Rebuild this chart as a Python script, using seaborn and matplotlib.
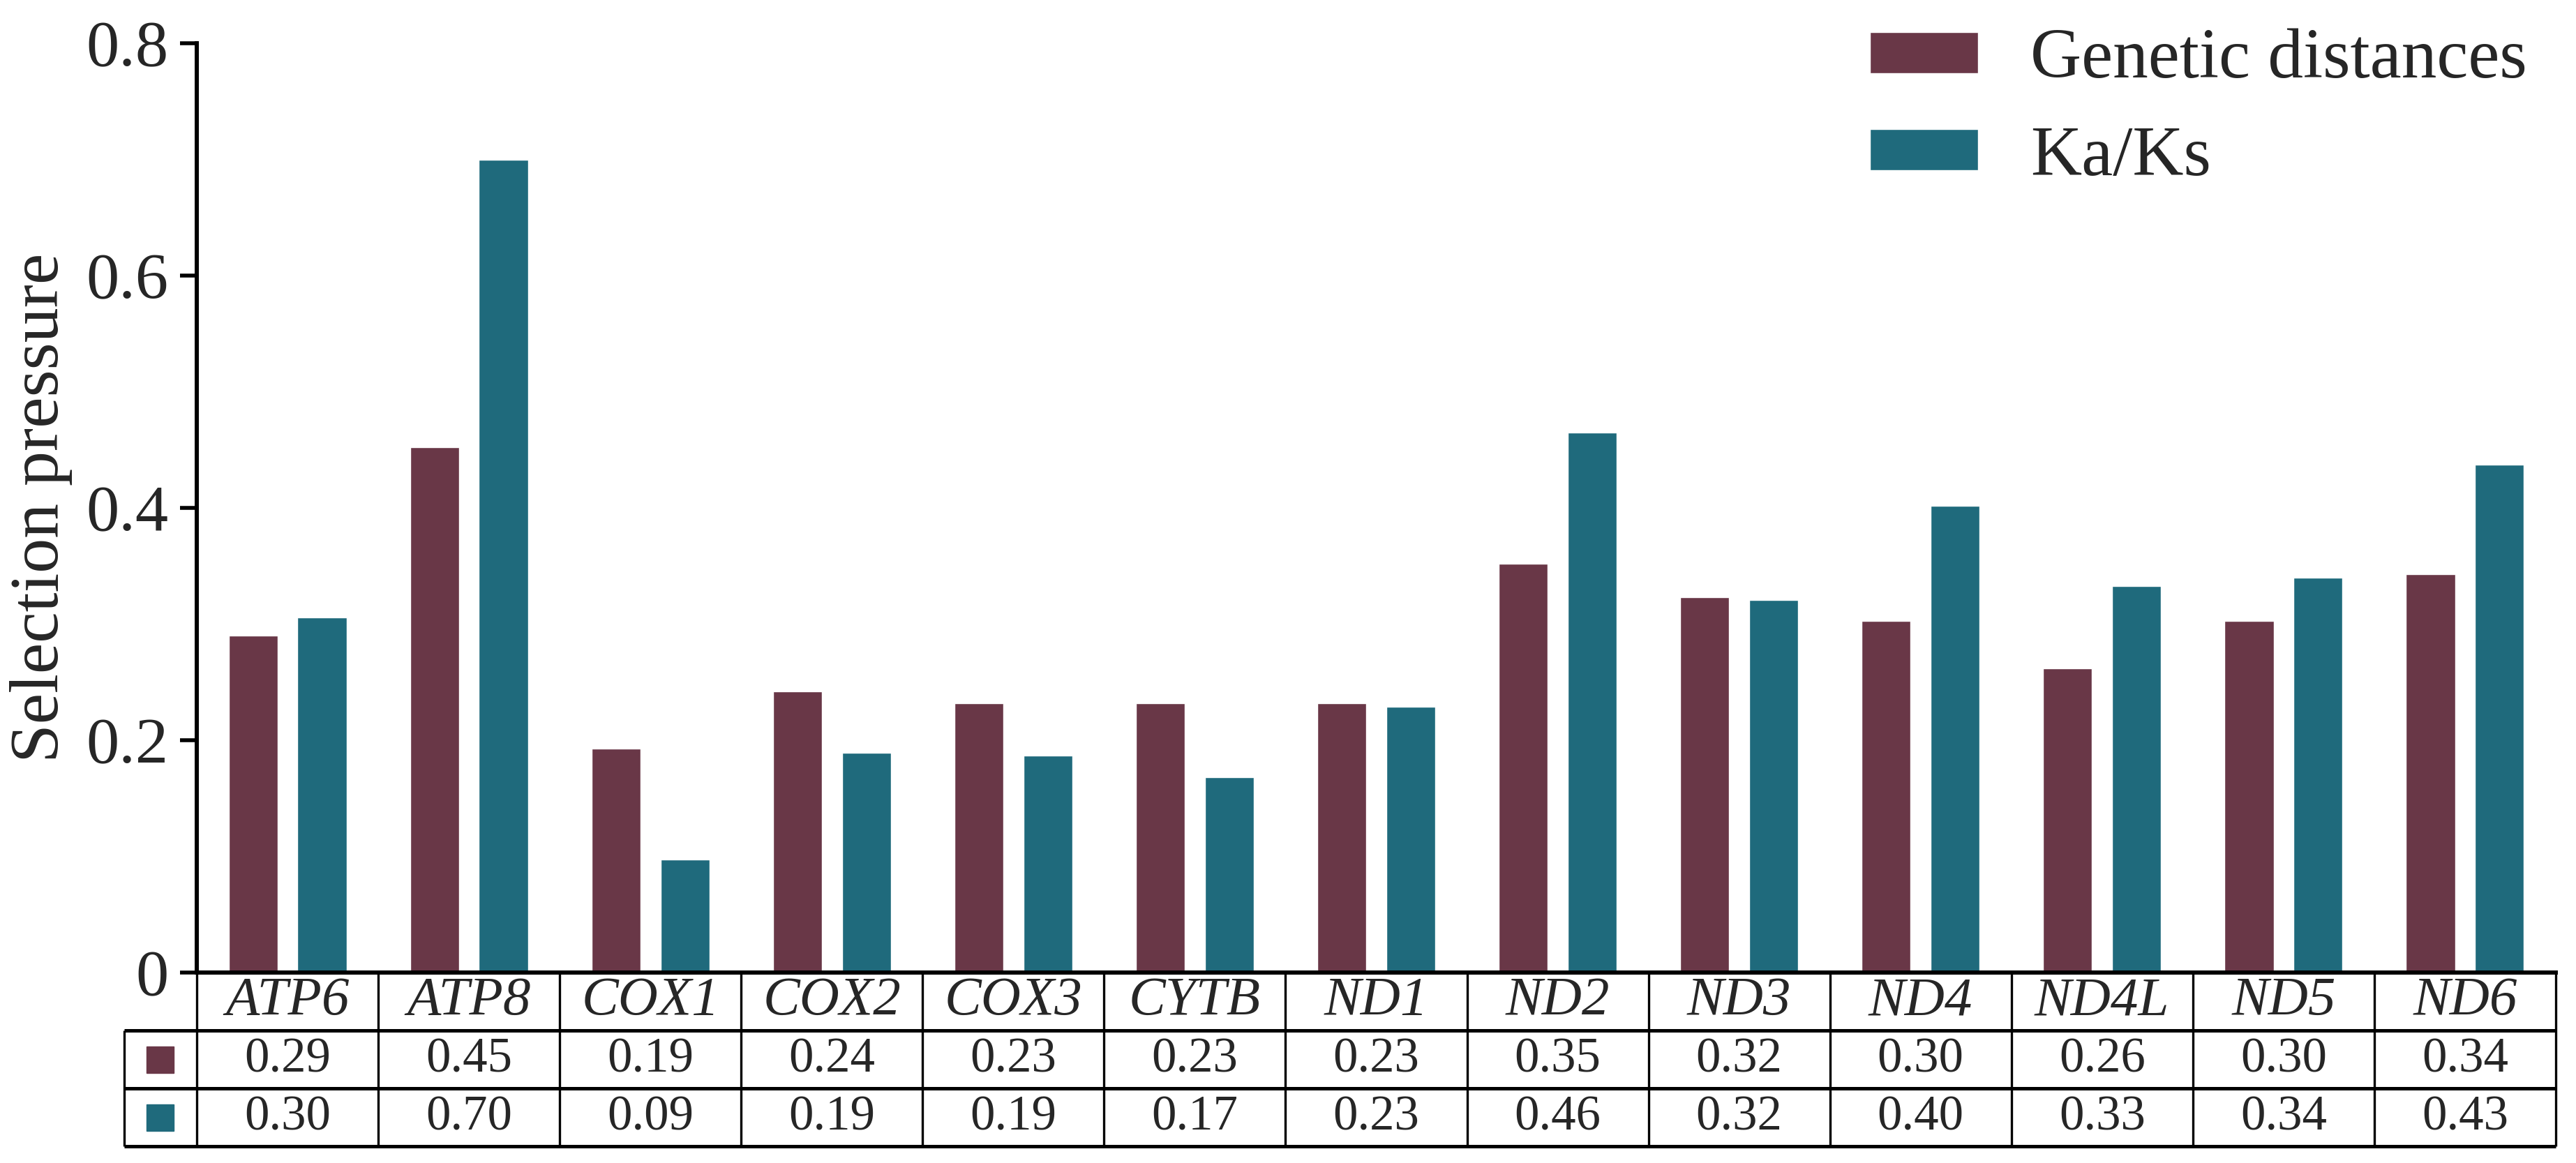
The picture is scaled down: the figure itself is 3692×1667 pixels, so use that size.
import matplotlib.pyplot as plt
import matplotlib.patches as mpatches
import numpy as np
import pandas as pd
import seaborn as sns

genes = ["ATP6", "ATP8", "COX1", "COX2", "COX3", "CYTB", "ND1",
         "ND2", "ND3", "ND4", "ND4L", "ND5", "ND6"]
series_names = ["Genetic distances", "Ka/Ks"]
# bar heights
genetic_distances = [0.290, 0.452, 0.193, 0.242, 0.232, 0.232, 0.232,
                     0.352, 0.323, 0.303, 0.262, 0.303, 0.343]
ka_ks = [0.306, 0.700, 0.097, 0.189, 0.187, 0.168, 0.229,
         0.465, 0.321, 0.402, 0.333, 0.340, 0.437]
# values printed in the table under the bars
genetic_labels = ["0.29", "0.45", "0.19", "0.24", "0.23", "0.23", "0.23",
                  "0.35", "0.32", "0.30", "0.26", "0.30", "0.34"]
ka_ks_labels = ["0.30", "0.70", "0.09", "0.19", "0.19", "0.17", "0.23",
                "0.46", "0.32", "0.40", "0.33", "0.34", "0.43"]
colors = ["#693747", "#1f6a7c"]
y_ticks = [0, 0.2, 0.4, 0.6, 0.8]
y_tick_labels = ["0", "0.2", "0.4", "0.6", "0.8"]

sns.set_theme(style="white")
plt.rcParams["font.family"] = ["Liberation Serif", "DejaVu Serif"]

df = pd.DataFrame({
    "gene": genes * 2,
    "series": [series_names[0]] * len(genes) + [series_names[1]] * len(genes),
    "value": genetic_distances + ka_ks,
})

W, H = 3692, 1667
fig = plt.figure(figsize=(W / 100, H / 100), dpi=100)
ax = fig.add_axes([282 / W, 1 - 1394 / H, (3663 - 282) / W, (1394 - 62) / H])
tax = fig.add_axes([282 / W, 1 - 1643 / H, (3663 - 282) / W, (1643 - 1394) / H])

sns.barplot(data=df, x="gene", y="value", hue="series", order=genes,
            hue_order=series_names, palette=colors, saturation=1,
            width=0.76, gap=0.29, ax=ax)

n = len(genes)
ax.set_xlim(-0.5, n - 0.5)
ax.set_ylim(0, 0.8)
ax.set_yticks(y_ticks)
ax.set_yticklabels(y_tick_labels, fontsize=68)
ax.set_xticks([])
ax.set_xlabel("")
ax.set_ylabel("Selection pressure", fontsize=72, labelpad=14)
ax.tick_params(axis="y", direction="out", length=17, width=4, pad=12, color="black", left=True)
for side in ["top", "right"]:
    ax.spines[side].set_visible(False)
for side in ["left", "bottom"]:
    ax.spines[side].set_linewidth(4.3)
    ax.spines[side].set_color("black")

handles, labels = ax.get_legend_handles_labels()
ax.legend(handles, labels, loc="upper left", bbox_to_anchor=(2680 / W, 1 - 41 / H),
          bbox_transform=fig.transFigure, frameon=False, fontsize=73,
          handlelength=1.53, handleheight=0.52, handletextpad=0.74,
          labelspacing=0.46, borderpad=0, borderaxespad=0)

# table under the axis
left_edge = -0.5 - (282 - 178) / 260
tax.set_xlim(-0.5, n - 0.5)
tax.set_ylim(3, 0)
tax.axis("off")
tax.hlines([1, 2, 3], left_edge, n - 0.5, color="black", lw=3.6, clip_on=False)
tax.vlines(np.arange(n + 1) - 0.5, 0, 3, color="black", lw=2.4, clip_on=False)
tax.vlines([left_edge], 1, 3, color="black", lw=2.4, clip_on=False)

for i, g in enumerate(genes):
    tax.text(i, 0.5, g, ha="center", va="center", fontsize=57, style="italic")
    tax.text(i, 1.5, genetic_labels[i], ha="center", va="center", fontsize=51)
    tax.text(i, 2.5, ka_ks_labels[i], ha="center", va="center", fontsize=51)

sw_x = (left_edge - 0.5) / 2
sw_w = 39 / 260
sw_h = 38 / 83
for row, c in zip([1.5, 2.5], colors):
    tax.add_patch(mpatches.Rectangle((sw_x - sw_w / 2, row - sw_h / 2), sw_w, sw_h,
                                     color=c, clip_on=False))

fig.savefig("out.png", dpi=100)
plt.close(fig)
